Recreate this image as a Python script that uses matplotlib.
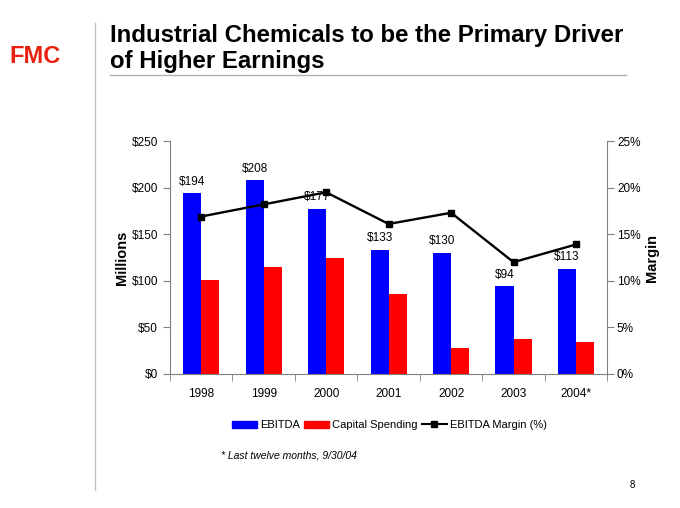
import matplotlib
matplotlib.use("Agg")
import matplotlib.pyplot as plt
import numpy as np
from matplotlib.lines import Line2D
from matplotlib.patches import Patch

plt.rcParams["font.family"] = ["Liberation Sans", "DejaVu Sans"]

years = ["1998", "1999", "2000", "2001", "2002", "2003", "2004*"]
ebitda = [194, 208, 177, 133, 130, 94, 113]
capex = [101, 115, 125, 86, 28, 38, 34]
margin = [16.9, 18.2, 19.5, 16.1, 17.3, 12.0, 13.9]

fig = plt.figure(figsize=(6.8, 5.08), dpi=100)
ax = fig.add_axes([0.25, 0.2638, 0.643, 0.4586])
ax2 = ax.twinx()

x = np.arange(len(years))
w = 0.29
ax.bar(x - w / 2, ebitda, w, color="#0000ff", zorder=2)
ax.bar(x + w / 2, capex, w, color="#ff0000", zorder=2)
for xi, v in zip(x, ebitda):
    ax.text(xi - w / 2, v + 6, f"${v}", ha="center", va="bottom", fontsize=8.5)

ax2.plot(x, margin, color="black", lw=1.7, marker="s", ms=4.5, zorder=3)

ax.set_xlim(-0.5, len(years) - 0.5)
ax.set_ylim(0, 250)
ax2.set_ylim(0, 25)
ax.set_yticks(range(0, 251, 50))
ax.set_yticklabels([f"${v}" for v in range(0, 251, 50)], fontsize=8.5)
ax2.set_yticks(range(0, 26, 5))
ax2.set_yticklabels([f"{v}%" for v in range(0, 26, 5)], fontsize=8.5)
ax.set_xticks(x)
ax.set_xticklabels(years, fontsize=8.5)
ax.tick_params(axis="x", length=0, pad=10)
ax.set_xticks(np.arange(-0.5, len(years), 1), minor=True)
ax.tick_params(axis="x", which="minor", length=5, color="#808080", direction="out")
ax.tick_params(axis="y", length=5, color="#808080")
ax2.tick_params(axis="y", length=5, color="#808080", pad=2)

for a in (ax, ax2):
    a.spines["top"].set_visible(False)
    for s in ("left", "right", "bottom"):
        a.spines[s].set_color("#808080")
        a.spines[s].set_linewidth(0.8)
ax.spines["right"].set_visible(False)
ax2.spines["left"].set_visible(False)
ax2.spines["bottom"].set_visible(False)

ax.set_ylabel("Millions", fontsize=10.5, fontweight="bold", labelpad=2)
ax2.set_ylabel("Margin", fontsize=10.5, fontweight="bold", labelpad=3)

handles = [
    Patch(color="#0000ff", label="EBITDA"),
    Patch(color="#ff0000", label="Capital Spending"),
    Line2D([0], [0], color="black", lw=1.5, marker="s", ms=4, label="EBITDA Margin (%)"),
]
fig.legend(handles=handles, loc="center", bbox_to_anchor=(0.573, 0.163), ncol=3,
           frameon=False, fontsize=8, handlelength=2.2, handleheight=0.6,
           columnspacing=0.4, handletextpad=0.3)

fig.text(0.325, 0.104, "* Last twelve months, 9/30/04", fontsize=7.5, style="italic",
         va="center")
fig.text(0.93, 0.04, "8", fontsize=7, ha="center")

# header
fig.text(0.162, 0.931, "Industrial Chemicals to be the Primary Driver", fontsize=17.3,
         fontweight="bold", va="center")
fig.text(0.162, 0.878, "of Higher Earnings", fontsize=17.3, fontweight="bold", va="center")
fig.add_artist(Line2D([0.162, 0.92], [0.852, 0.852], color="#b0b0b0", lw=1))
fig.add_artist(Line2D([0.14, 0.14], [0.035, 0.955], color="#c0c0c0", lw=1))
fig.text(0.052, 0.888, "FMC", fontsize=17, fontweight="heavy", color="#e8210f",
         ha="center", va="center")

fig.savefig("out.png", dpi=100)
